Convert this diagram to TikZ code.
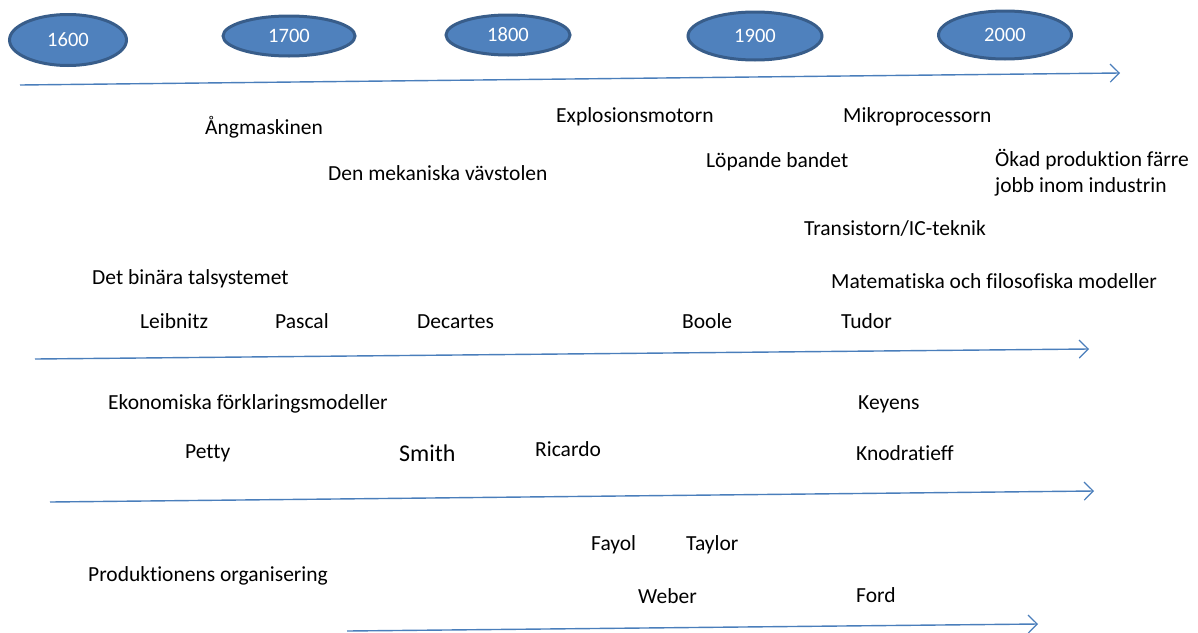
\documentclass[tikz,border=0pt]{standalone}
\usepackage{fontspec}
\setmainfont{Carlito}[Ligatures=NoCommon]
\usetikzlibrary{arrows.meta,shapes.geometric}

\definecolor{yearfill}{HTML}{4F81BD}
\definecolor{yeardraw}{HTML}{385D8A}
\definecolor{axisblue}{HTML}{4A7EBB}

\tikzset{
  year/.style={ellipse, fill=yearfill, draw=yeardraw, line width=3pt,
    inner sep=0pt, text=white, font=\fontsize{20.5}{22}\selectfont},
  event/.style={anchor=west, inner sep=0pt, font=\fontsize{21.5}{26}\selectfont},
  axis/.style={axisblue, line width=1.4pt, -{Straight Barb[length=9pt,width=18pt,line width=1.2pt]}}
}

\begin{document}
\begin{tikzpicture}[x=1pt, y=-1pt]
\useasboundingbox (0,0) rectangle (1198,632);

% the years
\node[year, minimum width=117pt, minimum height=51pt] (y1600) at (68,40) {1600};
\node[year, minimum width=132pt, minimum height=40pt] (y1700) at (289,36) {1700};
\node[year, minimum width=124pt, minimum height=40pt] (y1800) at (508,35) {1800};
\node[year, minimum width=134pt, minimum height=48pt] (y1900) at (755,36) {1900};
\node[year, minimum width=133pt, minimum height=48pt] (y2000) at (1005,35) {2000};

% time lines
\coordinate (a1) at (20,85);   \coordinate (b1) at (1120,73);
\coordinate (a2) at (35,359);  \coordinate (b2) at (1089,349);
\coordinate (a3) at (50,502);  \coordinate (b3) at (1094,491);
\coordinate (a4) at (347,631); \coordinate (b4) at (1038,624);
\foreach \i in {1,...,4}
  \draw[axis] (a\i) -- (b\i);

% technik
\node[event] (angm) at (205,127) {Ångmaskinen};
\node[event] (explo) at (556,117) {Explosionsmotorn};
\node[event] (mikro) at (843,117) {Mikroprocessorn};
\node[event] (vavst) at (328,173) {Den mekaniska vävstolen};
\node[event] (lopan) at (706,162) {Löpande bandet};
\node[event, align=left] (okad) at (995,173) {Ökad produktion färre\\jobb inom industrin};
\node[event] (trans) at (804,228) {Transistorn/IC-teknik};

% matematik
\node[event] (binar) at (92,279) {Det binära talsystemet};
\node[event] (matem) at (831,281) {Matematiska och filosofiska modeller};
\node[event] (leibn) at (140,321) {Leibnitz};
\node[event] (pasca) at (275,321) {Pascal};
\node[event] (decar) at (417,322) {Decartes};
\node[event] (boole) at (682,321) {Boole};
\node[event] (tudor) at (841,321) {Tudor};

% ekonomi
\node[event] (ekono) at (108,404) {Ekonomiska förklaringsmodeller};
\node[event] (keyen) at (858,404) {Keyens};
\node[event] (petty) at (185,453) {Petty};
\node[event, font=\fontsize{24}{28}\selectfont] (smith) at (399,453) {Smith};
\node[event] (ricar) at (535,449) {Ricardo};
\node[event] (knodr) at (856,453) {Knodratieff};

% organisering
\node[event] (fayol) at (591,545) {Fayol};
\node[event] (taylo) at (686,545) {Taylor};
\node[event] (produ) at (88,576) {Produktionens organisering};
\node[event] (weber) at (638,596) {Weber};
\node[event] (ford) at (856,595) {Ford};

\end{tikzpicture}
\end{document}
